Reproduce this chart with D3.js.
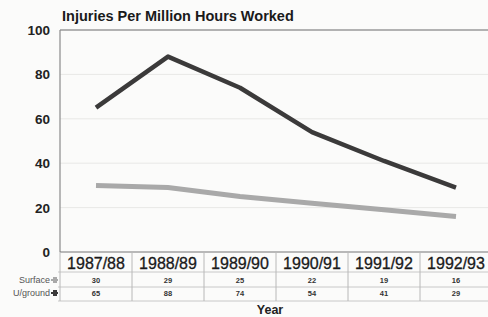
<!DOCTYPE html>
<html>
<head>
<meta charset="utf-8">
<script src="https://cdn.jsdelivr.net/npm/d3@7"></script>
<style>
  body { margin: 0; background: #fbfbfa; }
  text { font-family: "Liberation Sans", Arial, sans-serif; }
</style>
</head>
<body>
<svg id="chart" width="488" height="317"></svg>
<script>
var years = ["1987/88", "1988/89", "1989/90", "1990/91", "1991/92", "1992/93"],
    surface = [30, 29, 25, 22, 19, 16],
    underground = [65, 88, 74, 54, 41, 29],
    yTicks = [0, 20, 40, 60, 80, 100],
    seriesNames = ["Surface", "U/ground"];

var svg = d3.select("#chart"),
    plotLeft = 60, plotRight = 492, plotTop = 30, plotBottom = 252;

var x = d3.scaleBand().domain(years).range([plotLeft, plotRight]),
    y = d3.scaleLinear().domain([0, 100]).range([plotBottom, plotTop]);

// gridlines
svg.selectAll("line.grid").data(yTicks.slice(1, 5)).enter().append("line")
    .attr("x1", plotLeft).attr("x2", 488)
    .attr("y1", function (d) { return y(d); }).attr("y2", function (d) { return y(d); })
    .attr("stroke", "#e8e8e6").attr("stroke-width", 1);

// top border + left axis
svg.append("line").attr("x1", plotLeft).attr("x2", 488).attr("y1", y(100)).attr("y2", y(100))
    .attr("stroke", "#9a9a9a").attr("stroke-width", 1.5);
svg.append("line").attr("x1", plotLeft).attr("x2", plotLeft).attr("y1", y(100)).attr("y2", plotBottom)
    .attr("stroke", "#8a8a8a").attr("stroke-width", 1.2);
svg.append("line").attr("x1", plotLeft).attr("x2", 488).attr("y1", plotBottom).attr("y2", plotBottom)
    .attr("stroke", "#777").attr("stroke-width", 1.2);

// y tick labels
svg.selectAll("text.ytick").data(yTicks).enter().append("text")
    .attr("x", 50).attr("y", function (d) { return y(d) + 5; })
    .attr("text-anchor", "end").attr("font-size", 13.5).attr("font-weight", "bold")
    .attr("fill", "#222").text(function (d) { return d; });

// title
svg.append("text").attr("x", 62).attr("y", 21).attr("font-size", 14.5)
    .attr("font-weight", "bold").attr("fill", "#1a1a1a")
    .text("Injuries Per Million Hours Worked");

var line = d3.line()
    .x(function (d, i) { return x(years[i]) + x.bandwidth() / 2; })
    .y(function (d) { return y(d); });

svg.append("path").datum(surface).attr("d", line)
    .attr("fill", "none").attr("stroke", "#a9a9a9").attr("stroke-width", 5);
svg.append("path").datum(underground).attr("d", line)
    .attr("fill", "none").attr("stroke", "#3b3a3a").attr("stroke-width", 4.5)
    .attr("stroke-linejoin", "round");

// data table
var rowY = [272, 287, 301];
svg.selectAll("line.row").data(rowY).enter().append("line")
    .attr("x1", 58).attr("x2", 488)
    .attr("y1", function (d) { return d; }).attr("y2", function (d) { return d; })
    .attr("stroke", "#c8c8c8").attr("stroke-width", 1);
svg.selectAll("line.col").data(years).enter().append("line")
    .attr("x1", function (d) { return x(d); }).attr("x2", function (d) { return x(d); })
    .attr("y1", plotBottom).attr("y2", 301)
    .attr("stroke", "#b8b8b8").attr("stroke-width", 1);

svg.selectAll("text.year").data(years).enter().append("text")
    .attr("x", function (d) { return x(d) + x.bandwidth() / 2; }).attr("y", 268.5)
    .attr("text-anchor", "middle").attr("font-size", 16).attr("fill", "#1a1a1a")
    .attr("stroke", "#1a1a1a").attr("stroke-width", 0.3)
    .text(function (d) { return d; });

[surface, underground].forEach(function (vals, r) {
    svg.selectAll("text.val" + r).data(vals).enter().append("text")
        .attr("x", function (d, i) { return x(years[i]) + x.bandwidth() / 2; })
        .attr("y", r === 0 ? 283 : 296)
        .attr("text-anchor", "middle").attr("font-size", 7.5).attr("font-weight", "bold")
        .attr("fill", "#333").text(function (d) { return d; });
});

seriesNames.forEach(function (name, r) {
    var cy = r === 0 ? 280 : 293;
    svg.append("text").attr("x", 50).attr("y", cy + 3).attr("text-anchor", "end")
        .attr("font-size", 9).attr("fill", "#555").text(name);
    svg.append("line").attr("x1", 51).attr("x2", 58).attr("y1", cy).attr("y2", cy)
        .attr("stroke", r === 0 ? "#a9a9a9" : "#3b3a3a").attr("stroke-width", 2);
    svg.append("rect").attr("x", 53).attr("y", cy - 3).attr("width", 4).attr("height", 6)
        .attr("fill", r === 0 ? "#a9a9a9" : "#3b3a3a");
});

svg.append("text").attr("x", 270).attr("y", 314).attr("text-anchor", "middle")
    .attr("font-size", 12.5).attr("font-weight", "bold").attr("fill", "#222").text("Year");
</script>
</body>
</html>
